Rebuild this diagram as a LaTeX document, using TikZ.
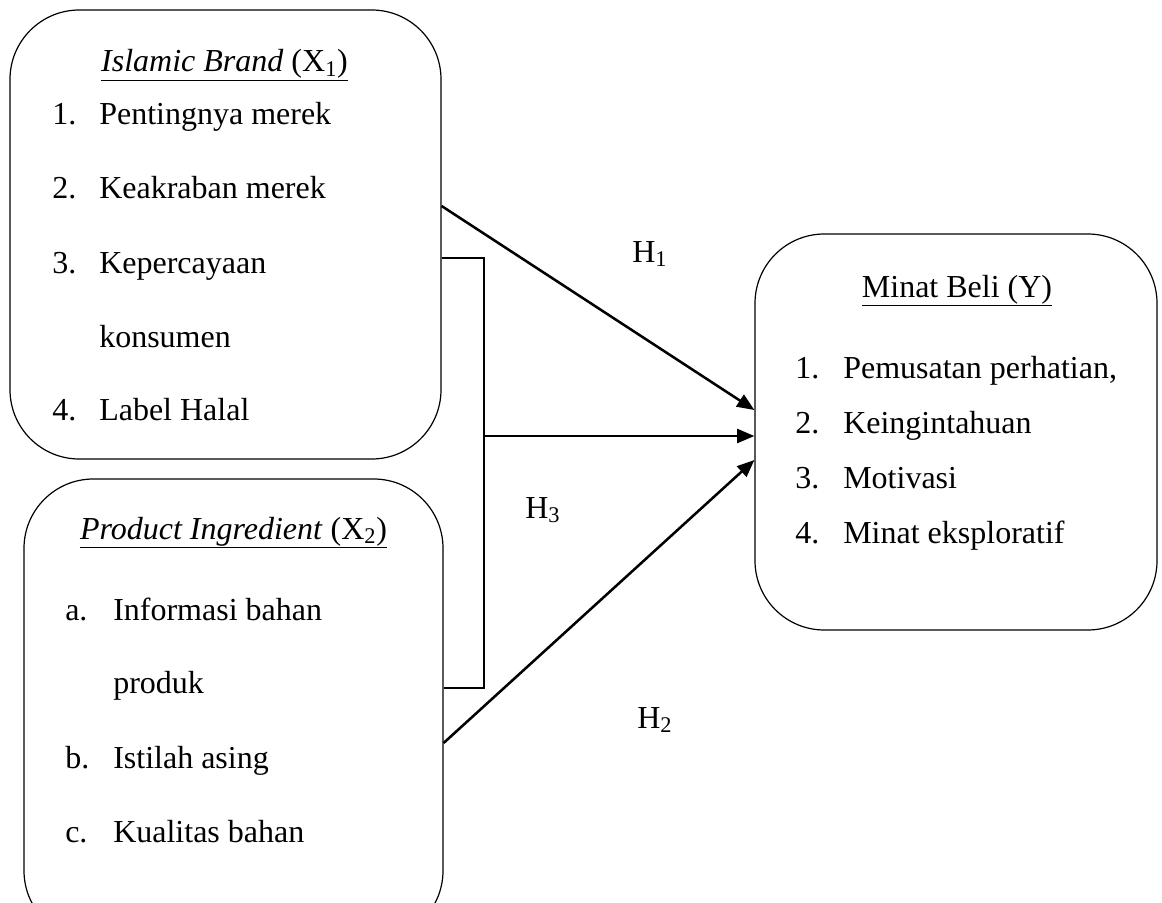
\documentclass[tikz,border=0pt]{standalone}
\usepackage{fontspec}
\setmainfont{Liberation Serif}
\usetikzlibrary{arrows.meta}
\tikzset{
  box/.style={draw, line width=0.9pt, rounded corners=52pt, inner sep=0pt},
  txt/.style={font=\fontsize{24pt}{28pt}\selectfont, inner sep=0pt, anchor=base west},
  ttl/.style={font=\fontsize{24pt}{28pt}\selectfont, inner sep=0pt, anchor=base},
  arr/.style={line width=1.9pt, -{Triangle[length=13pt,width=10.5pt]}},
  brk/.style={line width=1.4pt}
}
\begin{document}
\begin{tikzpicture}[x=0.75pt,y=-0.75pt]
\clip (0,0) rectangle (1162,902);
\fill[white] (0,0) rectangle (1162,902);
% boxes
\node[box, minimum width=323.25pt, minimum height=336.75pt] (b1) at (225.5,234.5) {};
\node[box, minimum width=314.25pt, minimum height=345.75pt] (b2) at (233.5,709.5) {};
\node[box, minimum width=301.5pt, minimum height=297pt] (b3) at (956,432) {};
% box 1 text
\node[ttl] (t1) at (224.5,72) {\underline{\textit{Islamic Brand} (X\textsubscript{1})}};
\node[txt] (n11) at (52,125) {1.};
\node[txt] (i11) at (99,125) {Pentingnya merek};
\node[txt] (n12) at (52,199) {2.};
\node[txt] (i12) at (99,199) {Keakraban merek};
\node[txt] (n13) at (52,273) {3.};
\node[txt] (i13) at (99,273) {Kepercayaan};
\node[txt] (i13b) at (99,347) {konsumen};
\node[txt] (n14) at (52,420) {4.};
\node[txt] (i14) at (99,420) {Label Halal};
% box 2 text
\node[ttl] (t2) at (233.5,539) {\underline{\textit{Product Ingredient} (X\textsubscript{2})}};
\node[txt] (n21) at (65,620) {a.};
\node[txt] (i21) at (113,620) {Informasi bahan};
\node[txt] (i21b) at (113,693) {produk};
\node[txt] (n22) at (65,768) {b.};
\node[txt] (i22) at (113,768) {Istilah asing};
\node[txt] (n23) at (65,842) {c.};
\node[txt] (i23) at (113,842) {Kualitas bahan};
% box 3 text
\node[ttl] (t3) at (957,297) {\underline{Minat Beli (Y)}};
\node[txt] (n31) at (795,378) {1.};
\node[txt] (i31) at (843,378) {Pemusatan perhatian,};
\node[txt] (n32) at (795,433) {2.};
\node[txt] (i32) at (843,433) {Keingintahuan};
\node[txt] (n33) at (795,488) {3.};
\node[txt] (i33) at (843,488) {Motivasi};
\node[txt] (n34) at (795,543) {4.};
\node[txt] (i34) at (843,543) {Minat eksploratif};
% hypothesis labels
\node[txt] (h1) at (632,262) {H\textsubscript{1}};
\node[txt] (h3) at (525,518) {H\textsubscript{3}};
\node[txt] (h2) at (637,728) {H\textsubscript{2}};
% helper coordinates
\coordinate (ya) at (0,206);
\coordinate (yb) at (0,410);
\coordinate (yc) at (0,436);
\coordinate (yd) at (0,743);
\coordinate (ye) at (0,460);
\coordinate (bt) at (484,258);
\coordinate (bb) at (484,688);
% bracket
\draw[brk] (b1.east |- bt) -- (bt) -- (bb) -- (b2.east |- bb);
% arrows
\draw[arr] (b1.east |- ya) -- (b3.west |- yb);
\draw[arr] (bt |- yc) -- (b3.west |- yc);
\draw[arr] (b2.east |- yd) -- (b3.west |- ye);
\end{tikzpicture}
\end{document}
